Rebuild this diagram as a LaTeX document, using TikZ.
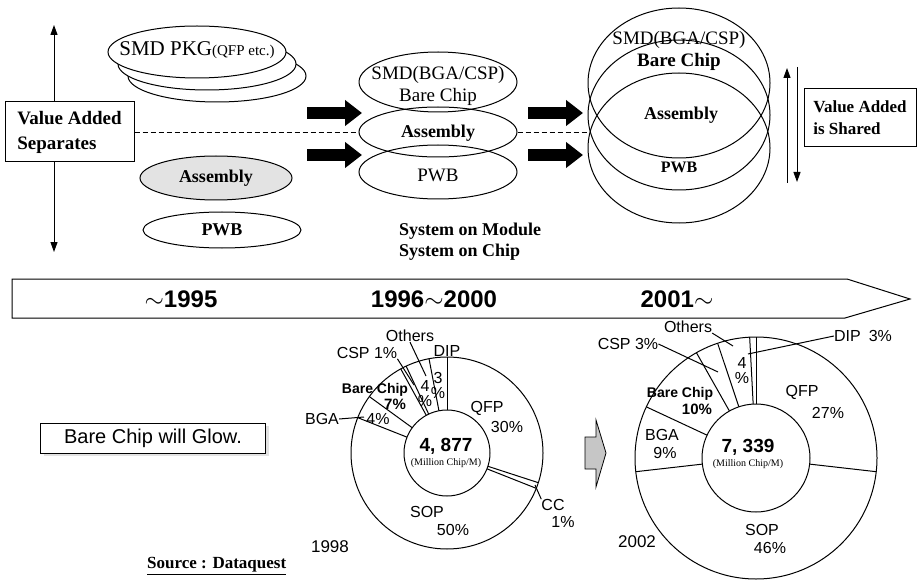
\documentclass[tikz,border=0pt]{standalone}
\usepackage{fontspec}
\setmainfont{Liberation Serif}
\newfontfamily\gothic{Liberation Sans}
\usetikzlibrary{arrows.meta,positioning,shapes.geometric,shadows}
\tikzset{
  lbl/.style={font=\fontsize{19}{22}\selectfont,inner sep=0pt,align=center},
  lblb/.style={font=\fontsize{18}{21}\selectfont\bfseries,inner sep=0pt,align=center},
  tier/.style={ellipse,draw,line width=1pt,inner sep=0pt},
  vabox/.style={draw,line width=1pt,fill=white,align=left,inner sep=4pt,
                font=\fontsize{19}{25}\selectfont\bfseries},
  vline/.style={line width=1pt,-{Triangle[length=10pt,width=7pt]}},
  push/.style={line width=12pt,-{Triangle[length=17pt,width=25pt]}},
  gyear/.style={font=\gothic\fontsize{24}{26}\selectfont\bfseries,inner sep=0pt},
  plab/.style={font=\gothic\fontsize{16}{15}\selectfont,inner sep=0pt,align=center},
  plabb/.style={font=\gothic\fontsize{14}{16}\selectfont\bfseries,inner sep=0pt,align=center},
  pline/.style={line width=1pt},
  lead/.style={line width=1pt}
}
\begin{document}
\begin{tikzpicture}[x=1pt,y=-1pt]
  \useasboundingbox (0,0) rectangle (918,580);
  % value added separates
  \coordinate (vtop) at (54,25);
  \coordinate (vbot) at (54,252);
  \node[vabox,minimum width=129pt,minimum height=60pt] (vasep) at (69.5,132) {Value Added\\Separates};
  \draw[vline] (vtop |- vasep.north) -- (vtop);
  \draw[vline] (vbot |- vasep.south) -- (vbot);
  \node[tier,fill=white,minimum width=178pt,minimum height=52pt] (pkg3) at (217,76) {};
  \node[tier,fill=white,minimum width=178pt,minimum height=52pt] (pkg2) at (207,64) {};
  \node[tier,fill=white,minimum width=178pt,minimum height=52pt] (pkg1) at (197,52) {};
  \node[lbl,font=\fontsize{21}{24}\selectfont] (pkgtxt) at (197,50) {SMD PKG{\fontsize{15}{17}\selectfont(QFP etc.)}};
  \node[tier,fill=gray!22,minimum width=152pt,minimum height=44pt] (asm1) at (216,178) {};
  \node[lblb] (asm1txt) at (asm1) {Assembly};
  \node[tier,minimum width=158pt,minimum height=36pt] (pwb1) at (222,230) {};
  \node[lblb] (pwb1txt) at (pwb1) {PWB};
  % system on module
  \node[tier,minimum width=158pt,minimum height=60pt] (smd2) at (438,82) {};
  \node[tier,minimum width=158pt,minimum height=50pt] (asm2) at (438,132) {};
  \node[tier,minimum width=158pt,minimum height=54pt] (pwb2) at (438,172) {};
  \node[lbl] (smd2txt) at (438,75) {SMD(BGA/CSP)};
  \node[lbl] (bare2txt) at (438,97) {Bare Chip};
  \node[lblb] (asm2txt) at (438,133) {Assembly};
  \node[lbl] (pwb2txt) at (438,175) {PWB};
  \node[lblb,align=left,anchor=west] (som) at (399,242) {System on Module\\System on Chip};
  \coordinate (p1a) at (307,113); \coordinate (p1b) at (362,113);
  \coordinate (p2a) at (307,155); \coordinate (p2b) at (362,155);
  \coordinate (p3a) at (528,113); \coordinate (p3b) at (583,113);
  \coordinate (p4a) at (528,155); \coordinate (p4b) at (583,155);
  \draw[push] (p1a) -- (p1b); \draw[push] (p2a) -- (p2b);
  \draw[push] (p3a) -- (p3b); \draw[push] (p4a) -- (p4b);
  % value added is shared
  \node[tier,minimum width=182pt,minimum height=150pt] (smd3) at (679,83) {};
  \node[tier,minimum width=182pt,minimum height=150pt] (asm3) at (679,115) {};
  \node[tier,minimum width=182pt,minimum height=150pt] (pwb3) at (679,148) {};
  \node[lbl] (smd3txt) at (679,40) {SMD(BGA/CSP)};
  \node[lbl,font=\fontsize{19}{22}\selectfont\bfseries] (bare3txt) at (679,62) {Bare Chip};
  \node[lblb] (asm3txt) at (681,115) {Assembly};
  \node[lblb,font=\fontsize{16}{19}\selectfont\bfseries] (pwb3txt) at (679,167) {PWB};
  \coordinate (shrw) at (591,132);
  \draw[dashed,line width=0.8pt,dash pattern=on 5pt off 3pt] (vasep.east) -- (asm2.west);
  \draw[dashed,line width=0.8pt,dash pattern=on 5pt off 3pt] (asm2.east) -- (shrw);
  \coordinate (up1) at (787,68); \coordinate (up0) at (787,183);
  \coordinate (dn0) at (797,67); \coordinate (dn1) at (797,182);
  \draw[vline] (up0) -- (up1);
  \draw[vline] (dn0) -- (dn1);
  \node[vabox,font=\fontsize{17}{22}\selectfont\bfseries,minimum width=112pt,minimum height=58pt] (vashr) at (860,118) {Value Added\\is Shared};
  % time line
  \draw[line width=1pt,fill=white] (12,279) -- (847,279) -- (910,299) -- (845,318) -- (12,318) -- cycle;
  \node[gyear] (y1) at (181,299) {$\sim$1995};
  \node[gyear] (y2) at (434,299) {1996$\sim$2000};
  \node[gyear] (y3) at (677,299) {2001$\sim$};
  % 1998
  \begin{scope}[shift={(447,453)},yscale=-1]
    \draw[pline] (0,0) circle[radius=96];
    \foreach \a in {90,100.8,115.2,118.8,144,158.4,-18,-21.6}
      \draw[pline] (\a:43) -- (\a:96);
  \end{scope}
  \node[circle,draw,pline,fill=white,minimum size=86pt,inner sep=0pt] (tot98) at (447,453) {};
  \node[plab,font=\gothic\fontsize{19}{21}\selectfont\bfseries] (n98) at (446,446) {4, 877};
  \node[lbl,font=\fontsize{10}{12}\selectfont] (u98) at (446,463) {(Million Chip/M)};
  \node[plab] (qfp98) at (487,408) {QFP};
  \node[plab] (qfpv98) at (507,427) {30\%};
  \node[plab] (sop98) at (427,512) {SOP};
  \node[plab] (sopv98) at (453,530) {50\%};
  \node[plab] (bga98) at (322,419) {BGA};
  \node[plab] (bgav98) at (378,419) {4\%};
  \node[plabb] (bare98) at (375,390) {Bare Chip};
  \node[plabb,font=\gothic\fontsize{15}{17}\selectfont\bfseries] (barev98) at (395,404) {7\%};
  \node[plab] (csp98) at (367,353) {CSP 1\%};
  \node[plab] (oth98) at (410,336) {Others};
  \node[plab] (othv98) at (425,394) {4\\\%};
  \node[plab] (dip98) at (447,351) {DIP};
  \node[plab] (dipv98) at (438,385) {3\\\%};
  \node[plab] (cc98) at (553,505) {CC};
  \node[plab] (ccv98) at (563,522) {1\%};
  \node[plab,font=\gothic\fontsize{17}{19}\selectfont] (yr98) at (330,547) {1998};
  \coordinate (bga98p) at (364,417);
  \coordinate (csp98p) at (414,385);
  \coordinate (oth98p) at (426,376);
  \coordinate (cc98p) at (535,485);
  \draw[lead] (bga98.east) -- (bga98p);
  \draw[lead] (csp98.south east) -- (csp98p);
  \draw[lead] (oth98.south) -- (oth98p);
  \draw[lead] (cc98.north west) -- (cc98p);
  % growth
  \draw[line width=0.8pt,fill=gray!45] (585,437) -- (596,437) -- (596,420) -- (606,453) -- (596,487) -- (596,469) -- (585,469) -- cycle;
  % 2002
  \begin{scope}[shift={(756,458)},yscale=-1]
    \draw[pline] (0,0) circle[radius=121];
    \foreach \a in {90,93,108.5,119.5,155,186.5,-6.5}
      \draw[pline] (\a:54) -- (\a:121);
  \end{scope}
  \node[circle,draw,pline,fill=white,minimum size=108pt,inner sep=0pt] (tot02) at (756,458) {};
  \node[plab,font=\gothic\fontsize{19}{21}\selectfont\bfseries] (n02) at (748,447) {7, 339};
  \node[lbl,font=\fontsize{10}{12}\selectfont] (u02) at (748,464) {(Million Chip/M)};
  \node[plab] (qfp02) at (802,392) {QFP};
  \node[plab] (qfpv02) at (828,413) {27\%};
  \node[plab] (sop02) at (762,530) {SOP};
  \node[plab] (sopv02) at (770,548) {46\%};
  \node[plab] (bga02) at (662,435) {BGA};
  \node[plab] (bgav02) at (665,453) {9\%};
  \node[plabb] (bare02) at (680,394) {Bare Chip};
  \node[plabb,font=\gothic\fontsize{15}{17}\selectfont\bfseries] (barev02) at (697,409) {10\%};
  \node[plab] (csp02) at (628,344) {CSP 3\%};
  \node[plab] (oth02) at (688,327) {Others};
  \node[plab] (othv02) at (742,371) {4\\\%};
  \node[plab] (dip02) at (863,336) {DIP\hspace{8pt}3\%};
  \node[plab,font=\gothic\fontsize{17}{19}\selectfont] (yr02) at (637,542) {2002};
  \coordinate (csp02p) at (718,372);
  \coordinate (oth02p) at (733,346);
  \coordinate (dip02p) at (748,354);
  \draw[lead] (csp02.east) -- (csp02p);
  \draw[lead] (oth02.south east) -- (oth02p);
  \draw[lead] (dip02.west) -- (dip02p);
  % notes
  \node[draw,line width=1pt,fill=white,minimum width=225pt,minimum height=30pt,
        font=\gothic\fontsize{20}{22}\selectfont,
        drop shadow={shadow xshift=3pt,shadow yshift=-3pt,fill=gray!45}] (glow) at (153,438) {Bare Chip will Glow.};
  \node[lblb,font=\fontsize{17}{20}\selectfont\bfseries,anchor=west] (src) at (147,566) {\underline{Source : Dataquest}};
\end{tikzpicture}
\end{document}
